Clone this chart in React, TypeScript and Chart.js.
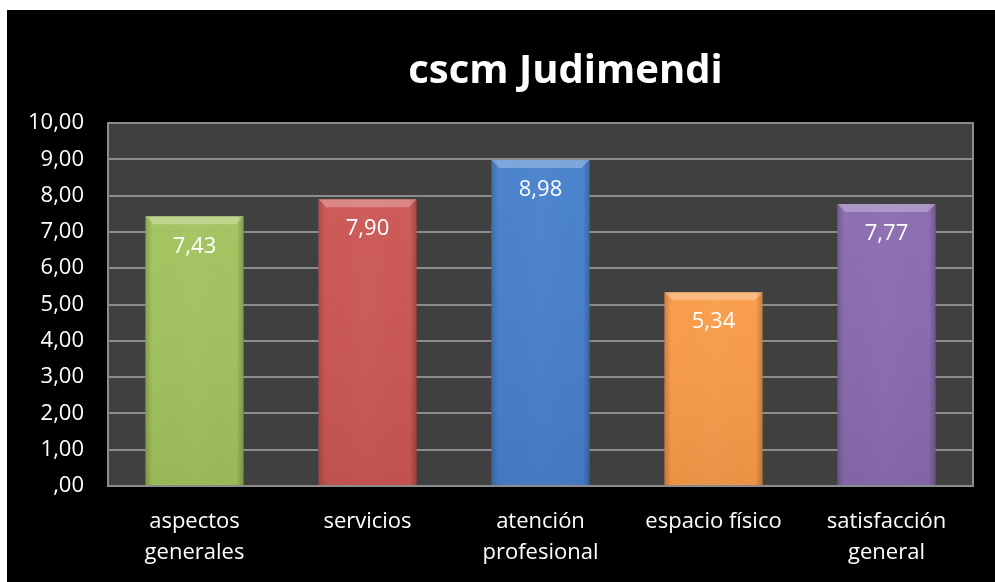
import { useEffect, useRef } from "react";
import { Chart, registerables } from "chart.js";
Chart.register(...registerables);

const chartTitle = "cscm Judimendi";
const categories = [
  ["aspectos", "generales"],
  ["servicios"],
  ["atención", "profesional"],
  ["espacio físico"],
  ["satisfacción", "general"],
];
const values = [7.43, 7.9, 8.98, 5.34, 7.77];
const barColors = ["#a2c35d", "#cc5653", "#4680cc", "#f99b48", "#8a6bb0"];
const yMin = 0;
const yMax = 10;
const yStep = 1;

const fmt = (v: number) => {
  const s = v.toFixed(2).replace(".", ",");
  return s.startsWith("0,") ? s.slice(1) : s;
};

const FONT = "'Open Sans', 'DejaVu Sans', sans-serif";

const decorPlugin = {
  id: "decor",
  beforeDraw(chart: any) {
    const { ctx, chartArea: a, width, height } = chart;
    ctx.save();
    ctx.fillStyle = "#000000";
    ctx.fillRect(0, 0, width, height);
    ctx.fillStyle = "#404040";
    ctx.fillRect(a.left, a.top, a.right - a.left, a.bottom - a.top);
    ctx.fillStyle = "#ffffff";
    ctx.font = `bold 40px ${FONT}`;
    ctx.textAlign = "center";
    ctx.textBaseline = "middle";
    ctx.fillText(chartTitle, (a.left + a.right) / 2 + 25, 62);
    ctx.restore();
  },
  afterDatasetsDraw(chart: any) {
    const { ctx, chartArea: a } = chart;
    const meta = chart.getDatasetMeta(0);
    ctx.save();
    meta.data.forEach((bar: any, i: number) => {
      const w = bar.width;
      const l = bar.x - w / 2;
      const r = bar.x + w / 2;
      const t = bar.y;
      const b = bar.base;
      const g = ctx.createLinearGradient(l, 0, r, 0);
      g.addColorStop(0, "rgba(0,0,0,0.18)");
      g.addColorStop(0.07, "rgba(0,0,0,0.0)");
      g.addColorStop(0.5, "rgba(255,255,255,0.02)");
      g.addColorStop(0.93, "rgba(0,0,0,0.0)");
      g.addColorStop(1, "rgba(0,0,0,0.22)");
      ctx.fillStyle = g;
      ctx.fillRect(l, t, w, b - t);
      const vg = ctx.createLinearGradient(0, t, 0, b);
      vg.addColorStop(0, "rgba(255,255,255,0.03)");
      vg.addColorStop(1, "rgba(0,0,0,0.06)");
      ctx.fillStyle = vg;
      ctx.fillRect(l, t, w, b - t);
      const bev = 8;
      ctx.beginPath();
      ctx.moveTo(l, t);
      ctx.lineTo(r, t);
      ctx.lineTo(r - bev, t + bev);
      ctx.lineTo(l + bev, t + bev);
      ctx.closePath();
      ctx.fillStyle = "rgba(255,255,255,0.28)";
      ctx.fill();
      ctx.fillStyle = "#ffffff";
      ctx.font = `22px ${FONT}`;
      ctx.textAlign = "center";
      ctx.textBaseline = "middle";
      ctx.fillText(fmt(values[i]), bar.x, t + 30);
    });
    ctx.strokeStyle = "#8c8c8c";
    ctx.lineWidth = 2;
    ctx.beginPath();
    ctx.moveTo(a.right, a.top - 1);
    ctx.lineTo(a.right, a.bottom + 1);
    ctx.stroke();
    ctx.restore();
  },
};

export default function App() {
  const ref = useRef<HTMLCanvasElement>(null);
  useEffect(() => {
    if (!ref.current) return;
    const chart = new Chart(ref.current, {
      type: "bar",
      data: {
        labels: categories,
        datasets: [
          {
            data: values,
            backgroundColor: barColors,
            borderWidth: 0,
            categoryPercentage: 1,
            barPercentage: 0.567,
          },
        ],
      },
      options: {
        responsive: false,
        animation: false,
        layout: { padding: { top: 113, right: 22, left: 0, bottom: 0 } },
        plugins: {
          legend: { display: false },
          title: { display: false },
          tooltip: { enabled: false },
        },
        scales: {
          x: {
            grid: { display: false, drawTicks: false },
            border: { display: true, color: "#8c8c8c", width: 2 },
            ticks: {
              color: "#ffffff",
              font: { family: FONT, size: 22, lineHeight: 1.41 },
              padding: 20,
              maxRotation: 0,
              autoSkip: false,
            },
            afterFit(scale: any) {
              scale.height = 96;
            },
          },
          y: {
            min: yMin,
            max: yMax,
            grid: { color: "#8c8c8c", lineWidth: 2, drawTicks: false },
            border: { display: true, color: "#8c8c8c", width: 2 },
            ticks: {
              stepSize: yStep,
              color: "#ffffff",
              font: { family: FONT, size: 22 },
              padding: 24,
              callback: (v: any) => fmt(Number(v)),
            },
            afterFit(scale: any) {
              scale.width = 101;
            },
          },
        },
      },
      plugins: [decorPlugin],
    });
    return () => chart.destroy();
  }, []);
  return (
    <div style={{ position: "absolute", left: 7, top: 10, width: 988, height: 572 }}>
      <canvas ref={ref} width={988} height={572} />
    </div>
  );
}
